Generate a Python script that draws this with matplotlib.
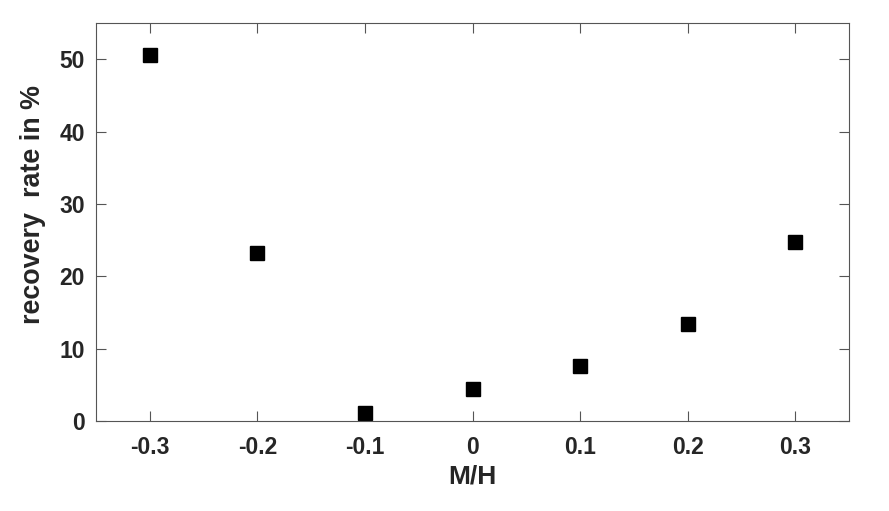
import matplotlib
matplotlib.use("Agg")
import matplotlib.pyplot as plt

# M/H ratio vs recovery rate
mh = [-0.3, -0.2, -0.1, 0.0, 0.1, 0.2, 0.3]
recovery = [50.6, 23.2, 1.1, 4.4, 7.6, 13.4, 24.7]
xticks = [-0.3, -0.2, -0.1, 0, 0.1, 0.2, 0.3]
xticklabels = ["-0.3", "-0.2", "-0.1", "0", "0.1", "0.2", "0.3"]
yticks = [0, 10, 20, 30, 40, 50]

plt.rcParams['font.family'] = ['Liberation Sans', 'DejaVu Sans']
plt.rcParams['font.weight'] = 'bold'

fig = plt.figure(figsize=(8.89, 5.11), dpi=100)
ax = fig.add_axes([96 / 889, 1 - 421 / 511, 753 / 889, 398 / 511])

ax.plot(mh, recovery, linestyle='none', marker='s', markersize=10,
        color='black')

ax.set_xlim(-0.35, 0.35)
ax.set_ylim(0, 55)
ax.set_xticks(xticks)
ax.set_xticklabels(xticklabels)
ax.set_yticks(yticks)

edge = '#262626'
for s in ax.spines.values():
    s.set_color('#555555')
    s.set_linewidth(0.8)
ax.tick_params(direction='in', length=7, width=0.8, color='#555555',
               labelsize=16.5, labelcolor=edge, top=True, right=True)
ax.tick_params(axis='x', pad=11)
ax.tick_params(axis='y', pad=8)
for lab in ax.get_xticklabels() + ax.get_yticklabels():
    lab.set_fontweight('bold')

ax.set_xlabel('M/H', fontsize=19, fontweight='bold', color=edge, labelpad=4)
ax.set_ylabel('recovery  rate in %', fontsize=19.4, fontweight='bold',
              color=edge)
ax.yaxis.set_label_coords(-0.067, 0.545)

fig.savefig('out.png', dpi=100)
